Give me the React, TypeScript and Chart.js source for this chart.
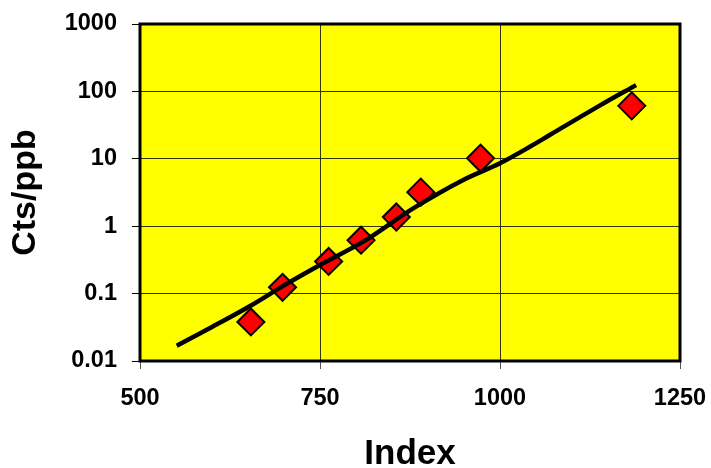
import React, { useEffect, useRef } from "react";
import { Chart, registerables } from "chart.js";

Chart.register(...registerables);

// Measured data (Index vs Cts/ppb)
const markerIndex = [654, 698, 762, 807, 856, 890, 973, 1183];
const markerCts = [0.038, 0.124, 0.3, 0.62, 1.37, 3.2, 10.2, 61];

// Fitted trend line
const lineIndex = [551, 600, 653, 699, 750, 810, 880, 949, 1000, 1042, 1069, 1139, 1189];
const lineCts = [0.0169, 0.032, 0.0655, 0.13, 0.265, 0.589, 1.85, 4.85, 8.58, 15.2, 22.5, 62, 124];

const xTicks = [500, 750, 1000, 1250];
const xTickLabels = ["500", "750", "1000", "1250"];
const yTicks = [0.01, 0.1, 1, 10, 100, 1000];
const yTickLabels = ["0.01", "0.1", "1", "10", "100", "1000"];

const FAMILY = '"Liberation Sans", Arial, Helvetica, sans-serif';

const plotFrame = {
  id: "plotFrame",
  beforeDraw(chart: any) {
    const { ctx, chartArea } = chart;
    const { left, top, right, bottom } = chartArea;
    ctx.save();
    ctx.fillStyle = "#ffff00";
    ctx.fillRect(left, top, right - left, bottom - top);
    ctx.restore();
  },
  afterDraw(chart: any) {
    const { ctx, chartArea } = chart;
    const { left, top, right, bottom } = chartArea;
    ctx.save();
    ctx.strokeStyle = "#000";
    ctx.lineWidth = 3;
    ctx.strokeRect(left, top, right - left, bottom - top);
    ctx.restore();
  },
};

const zeroPad = (s: any) => {
  s.paddingTop = 0;
  s.paddingBottom = 0;
  s.paddingLeft = 0;
  s.paddingRight = 0;
};

export default function App() {
  const ref = useRef<HTMLCanvasElement | null>(null);

  useEffect(() => {
    if (!ref.current) return;
    const chart = new Chart(ref.current, {
      type: "scatter",
      data: {
        datasets: [
          {
            label: "Fit",
            data: lineIndex.map((x, i) => ({ x, y: lineCts[i] })),
            showLine: true,
            borderColor: "#000",
            borderWidth: 4.5,
            pointRadius: 0,
            cubicInterpolationMode: "monotone",
            fill: false,
          } as any,
          {
            label: "Data",
            data: markerIndex.map((x, i) => ({ x, y: markerCts[i] })),
            pointStyle: "rectRot",
            pointRadius: 13.5,
            pointBackgroundColor: "#ff0000",
            pointBorderColor: "#000",
            pointBorderWidth: 2,
            showLine: false,
          } as any,
        ],
      },
      options: {
        animation: false,
        responsive: false,
        layout: { padding: { left: 0, top: 24, right: 31, bottom: 0 } },
        plugins: {
          legend: { display: false },
          tooltip: { enabled: false },
        },
        scales: {
          x: {
            type: "linear",
            min: 500,
            max: 1250,
            afterBuildTicks: (s: any) => {
              s.ticks = xTicks.map((v) => ({ value: v }));
            },
            afterFit: (s: any) => {
              s.height = 107;
              zeroPad(s);
            },
            ticks: {
              color: "#000",
              font: { family: FAMILY, size: 23.5, weight: "bold" },
              padding: 15,
              maxRotation: 0,
              autoSkip: false,
              callback: (_v: any, i: number) => xTickLabels[i],
            },
            grid: {
              color: "#333300",
              lineWidth: 1,
              tickLength: 8,
              tickColor: "#555",
            },
            border: { display: false },
            title: {
              display: true,
              text: "Index",
              color: "#000",
              font: { family: FAMILY, size: 35, weight: "bold", lineHeight: 0.8 },
              padding: 0,
            },
          },
          y: {
            type: "logarithmic",
            min: 0.01,
            max: 1000,
            afterBuildTicks: (s: any) => {
              s.ticks = yTicks.map((v) => ({ value: v }));
            },
            afterFit: (s: any) => {
              s.width = 140;
              zeroPad(s);
            },
            ticks: {
              color: "#000",
              font: { family: FAMILY, size: 23.5, weight: "bold" },
              padding: 15,
              autoSkip: false,
              callback: (_v: any, i: number) => yTickLabels[i],
            },
            grid: {
              color: "#333300",
              lineWidth: 1,
              tickLength: 8,
              tickColor: "#000",
            },
            border: { display: false },
            title: {
              display: true,
              text: "Cts/ppb",
              color: "#000",
              font: { family: FAMILY, size: 34, weight: "bold", lineHeight: 1.2 },
              padding: { top: 5, bottom: 0 },
            },
          },
        },
      },
      plugins: [plotFrame],
    });
    return () => chart.destroy();
  }, []);

  return (
    <div style={{ position: "absolute", left: 0, top: 0, width: 711, height: 468, background: "#fff" }}>
      <canvas ref={ref} width={711} height={468} style={{ width: 711, height: 468, display: "block" }} />
    </div>
  );
}
